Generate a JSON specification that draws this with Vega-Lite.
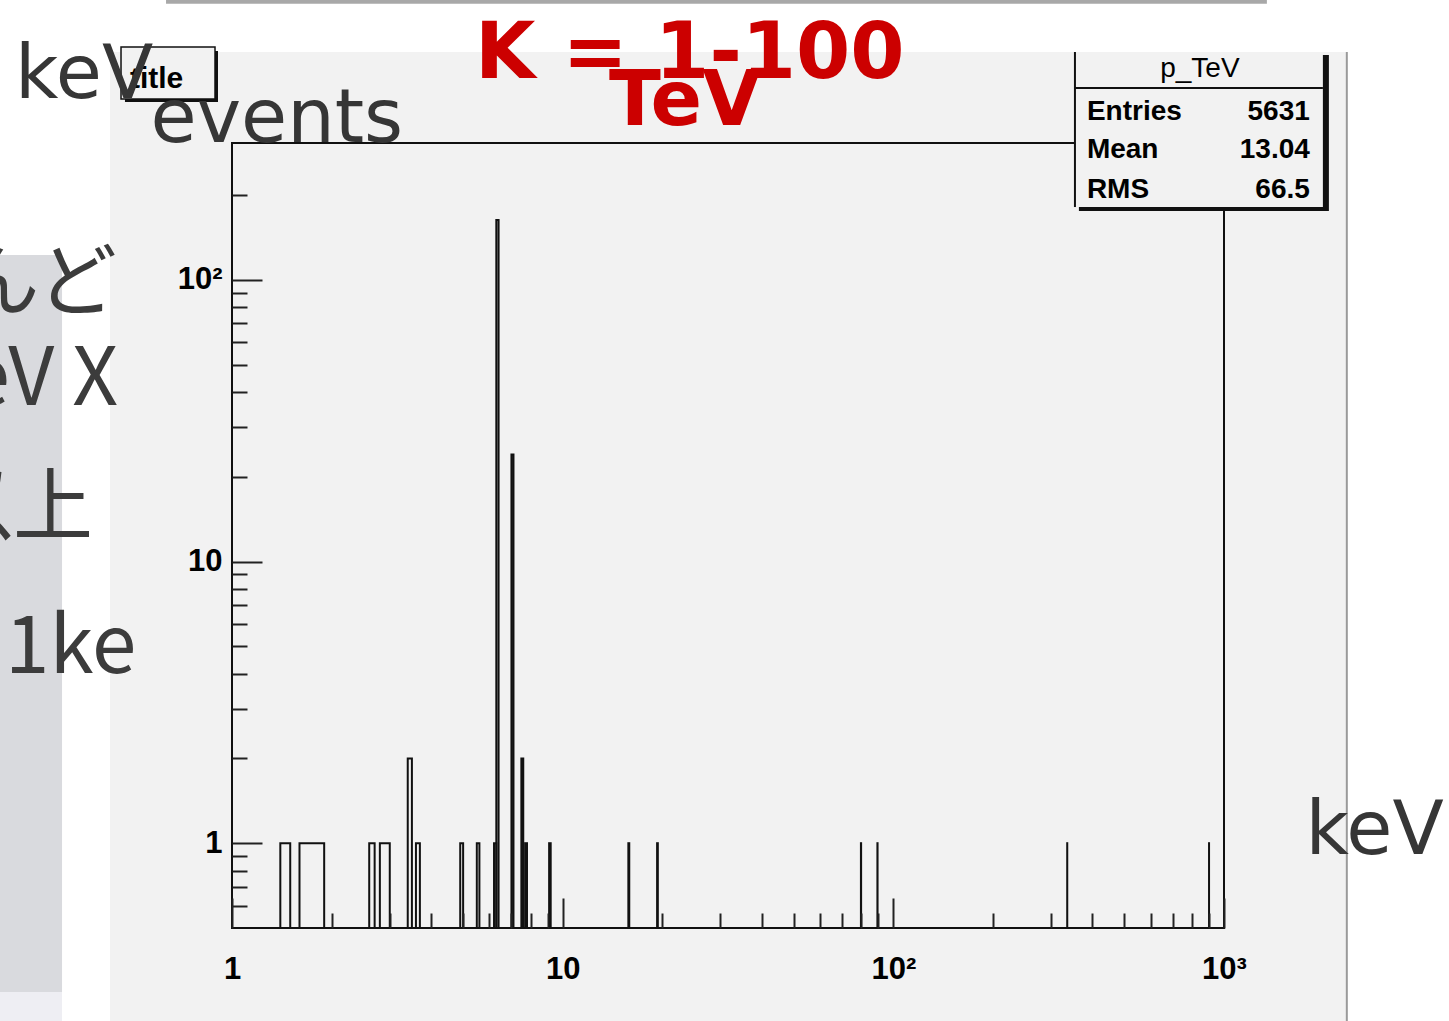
{
"$schema": "https://vega.github.io/schema/vega-lite/v6.json",
"width": 992, "height": 785,
"autosize": {"type": "none"},
"padding": {"left": 232, "top": 143, "right": 225, "bottom": 93},
"background": "#ffffff",
"config": {"view": {"stroke": null}, "axis": {"zindex": 1}},
"data": {"values": [
 {"lo": 1.4, "hi": 1.5, "count": 1},
 {"lo": 1.6, "hi": 1.9, "count": 1},
 {"lo": 2.6, "hi": 2.7, "count": 1},
 {"lo": 2.8, "hi": 3.0, "count": 1},
 {"lo": 3.4, "hi": 3.5, "count": 2},
 {"lo": 3.6, "hi": 3.7, "count": 1},
 {"lo": 4.9, "hi": 5.0, "count": 1},
 {"lo": 5.5, "hi": 5.6, "count": 1},
 {"lo": 6.2, "hi": 6.3, "count": 1},
 {"lo": 6.3, "hi": 6.4, "count": 163},
 {"lo": 7.0, "hi": 7.1, "count": 24},
 {"lo": 7.5, "hi": 7.6, "count": 2},
 {"lo": 7.7, "hi": 7.8, "count": 1},
 {"lo": 9.1, "hi": 9.2, "count": 1},
 {"lo": 15.8, "hi": 15.9, "count": 1},
 {"lo": 19.3, "hi": 19.4, "count": 1},
 {"lo": 79.8, "hi": 79.9, "count": 1},
 {"lo": 89.5, "hi": 89.6, "count": 1},
 {"lo": 335.6, "hi": 335.7, "count": 1},
 {"lo": 901.0, "hi": 901.1, "count": 1}
]},
"resolve": {"axis": {"x": "independent", "y": "independent"}},
"layer": [
 {"data": {"values": [{}]}, "mark": {"type": "rect", "fill": "#f2f2f2"},
  "encoding": {"x": {"datum": 0.4277, "type": "quantitative", "scale": {"type": "log", "domain": [1, 1000], "nice": false}, "axis": null}, "x2": {"datum": 2352},
   "y": {"datum": 643.7, "type": "quantitative", "scale": {"type": "log", "domain": [0.5, 306], "nice": false}, "axis": null}, "y2": {"datum": 0.1}}},
 {"data": {"values": [{}]}, "mark": {"type": "rule", "stroke": "#9a9a9a", "strokeWidth": 2},
  "encoding": {"x": {"datum": 2352, "type": "quantitative", "scale": {"type": "log", "domain": [1, 1000], "nice": false}, "axis": null},
   "y": {"datum": 643.7, "type": "quantitative", "scale": {"type": "log", "domain": [0.5, 306], "nice": false}, "axis": null}, "y2": {"datum": 0.1}}},
 {"data": {"values": [{}]}, "mark": {"type": "rect", "fill": "#d9dade"},
  "encoding": {"x": {"datum": 0.1, "type": "quantitative", "scale": {"type": "log", "domain": [1, 1000], "nice": false}, "axis": null}, "x2": {"datum": 0.3062},
   "y": {"datum": 122.4, "type": "quantitative", "scale": {"type": "log", "domain": [0.5, 306], "nice": false}, "axis": null}, "y2": {"datum": 0.2963}}},
 {"data": {"values": [{}]}, "mark": {"type": "rect", "fill": "#eeeef3"},
  "encoding": {"x": {"datum": 0.1, "type": "quantitative", "scale": {"type": "log", "domain": [1, 1000], "nice": false}, "axis": null}, "x2": {"datum": 0.3062},
   "y": {"datum": 0.2963, "type": "quantitative", "scale": {"type": "log", "domain": [0.5, 306], "nice": false}, "axis": null}, "y2": {"datum": 0.1}}},
 {"data": {"values": [{}]}, "mark": {"type": "rect", "fill": "#a8a8a8"},
  "encoding": {"x": {"datum": 0.6317, "type": "quantitative", "scale": {"type": "log", "domain": [1, 1000], "nice": false}, "axis": null}, "x2": {"datum": 1348},
   "y": {"datum": 984.5, "type": "quantitative", "scale": {"type": "log", "domain": [0.5, 306], "nice": false}, "axis": null}, "y2": {"datum": 955.3}}},
 {"mark": {"type": "rect", "fillOpacity": 0, "stroke": "#111111", "strokeWidth": 2},
  "encoding": {"x": {"field": "lo", "type": "quantitative", "scale": {"type": "log", "domain": [1, 1000], "nice": false}, "axis": null}, "x2": {"field": "hi"},
   "y": {"field": "count", "type": "quantitative", "scale": {"type": "log", "domain": [0.5, 306], "nice": false}, "axis": null}, "y2": {"datum": 0.5}}},
 {"data": {"values": [{}]}, "mark": {"type": "rect", "fillOpacity": 0, "stroke": "#111111", "strokeWidth": 2},
  "encoding": {"x": {"datum": 1, "type": "quantitative", "scale": {"type": "log", "domain": [1, 1000], "nice": false}, "axis": null}, "x2": {"datum": 1000},
   "y": {"datum": 0.5, "type": "quantitative", "scale": {"type": "log", "domain": [0.5, 306], "nice": false}, "axis": null}, "y2": {"datum": 306}}},
 {"mark": {"type": "point", "opacity": 0},
  "encoding": {"x": {"field": "lo", "type": "quantitative", "scale": {"type": "log", "domain": [1, 1000], "nice": false},
     "axis": {"orient": "bottom", "zindex": 1, "values": [1, 10, 100, 1000], "labels": false, "domain": false, "grid": false, "ticks": true, "tickSize": -30, "tickWidth": 2, "tickColor": "#222222", "title": null}},
   "y": {"field": "count", "type": "quantitative", "scale": {"type": "log", "domain": [0.5, 306], "nice": false},
     "axis": {"orient": "left", "zindex": 1, "values": [1, 10, 100], "labels": false, "domain": false, "grid": false, "ticks": true, "tickSize": -30, "tickWidth": 2, "tickColor": "#222222", "title": null}}}},
 {"mark": {"type": "point", "opacity": 0},
  "encoding": {"x": {"field": "lo", "type": "quantitative", "scale": {"type": "log", "domain": [1, 1000], "nice": false},
     "axis": {"orient": "bottom", "zindex": 1, "values": [2, 3, 4, 5, 6, 7, 8, 9, 20, 30, 40, 50, 60, 70, 80, 90, 200, 300, 400, 500, 600, 700, 800, 900], "labels": false, "domain": false, "grid": false, "ticks": true, "tickSize": -15, "tickWidth": 2, "tickColor": "#222222", "title": null}},
   "y": {"field": "count", "type": "quantitative", "scale": {"type": "log", "domain": [0.5, 306], "nice": false},
     "axis": {"orient": "left", "zindex": 1, "values": [0.6, 0.7, 0.8, 0.9, 2, 3, 4, 5, 6, 7, 8, 9, 20, 30, 40, 50, 60, 70, 80, 90, 200], "labels": false, "domain": false, "grid": false, "ticks": true, "tickSize": -15, "tickWidth": 2, "tickColor": "#222222", "title": null}}}},
 {"mark": {"type": "point", "opacity": 0},
  "encoding": {"x": {"field": "lo", "type": "quantitative", "scale": {"type": "log", "domain": [1, 1000], "nice": false},
     "axis": {"orient": "bottom", "zindex": 1, "values": [1, 10, 100, 1000], "ticks": false, "domain": false, "grid": false, "labelPadding": 26, "labelFlush": false, "labelOverlap": false,
       "labelFont": "Liberation Sans", "labelFontSize": 31, "labelFontWeight": "bold", "labelColor": "#000000",
       "labelExpr": "datum.value == 1 ? '1' : datum.value == 10 ? '10' : datum.value == 100 ? '10²' : '10³'",
       "title": "keV", "titleAngle": 0, "titleAlign": "left", "titleBaseline": "alphabetic", "titleX": 1073, "titleY": -75,
       "titleFont": "DejaVu Sans", "titleFontSize": 75, "titleFontWeight": "normal", "titleColor": "#363636"}},
   "y": {"field": "count", "type": "quantitative", "scale": {"type": "log", "domain": [0.5, 306], "nice": false},
     "axis": {"orient": "left", "zindex": 1, "values": [1, 10, 100], "ticks": false, "domain": false, "grid": false, "labelPadding": 10, "labelOverlap": false, "labelFlush": false,
       "labelFont": "Liberation Sans", "labelFontSize": 31, "labelFontWeight": "bold", "labelColor": "#000000",
       "labelExpr": "datum.value == 1 ? '1' : datum.value == 10 ? '10' : '10²'",
       "title": "events", "titleAngle": 0, "titleAlign": "left", "titleBaseline": "alphabetic", "titleX": -82, "titleY": -2,
       "titleFont": "DejaVu Sans", "titleFontSize": 75, "titleFontWeight": "normal", "titleColor": "#363636"}}}},
 {"data": {"values": [{}]}, "mark": {"type": "rect", "fill": "#111111"},
  "encoding": {"x": {"datum": 0.4746, "type": "quantitative", "scale": {"type": "log", "domain": [1, 1000], "nice": false}, "axis": null}, "x2": {"datum": 0.9071},
   "y": {"datum": 649.0, "type": "quantitative", "scale": {"type": "log", "domain": [0.5, 306], "nice": false}, "axis": null}, "y2": {"datum": 427.8}}},
 {"data": {"values": [{}]}, "mark": {"type": "rect", "fill": "#f2f2f2", "stroke": "#111111", "strokeWidth": 1.5},
  "encoding": {"x": {"datum": 0.4617, "type": "quantitative", "scale": {"type": "log", "domain": [1, 1000], "nice": false}, "axis": null}, "x2": {"datum": 0.8884},
   "y": {"datum": 670.7, "type": "quantitative", "scale": {"type": "log", "domain": [0.5, 306], "nice": false}, "axis": null}, "y2": {"datum": 438.4}}},
 {"data": {"values": [{}]}, "mark": {"type": "text", "text": "title", "font": "Liberation Sans", "fontSize": 30, "fontWeight": "bold", "color": "#000000", "align": "left", "baseline": "alphabetic"},
  "encoding": {"x": {"datum": 0.4913, "type": "quantitative", "scale": {"type": "log", "domain": [1, 1000], "nice": false}, "axis": null},
   "y": {"datum": 479.6, "type": "quantitative", "scale": {"type": "log", "domain": [0.5, 306], "nice": false}, "axis": null}}},
 {"data": {"values": [{}]}, "mark": {"type": "rect", "fill": "#111111"},
  "encoding": {"x": {"datum": 364.1, "type": "quantitative", "scale": {"type": "log", "domain": [1, 1000], "nice": false}, "axis": null}, "x2": {"datum": 2076},
   "y": {"datum": 628.1, "type": "quantitative", "scale": {"type": "log", "domain": [0.5, 306], "nice": false}, "axis": null}, "y2": {"datum": 175.5}}},
 {"data": {"values": [{}]}, "mark": {"type": "rect", "fill": "#f2f2f2"},
  "encoding": {"x": {"datum": 354.2, "type": "quantitative", "scale": {"type": "log", "domain": [1, 1000], "nice": false}, "axis": null}, "x2": {"datum": 1991},
   "y": {"datum": 643.7, "type": "quantitative", "scale": {"type": "log", "domain": [0.5, 306], "nice": false}, "axis": null}, "y2": {"datum": 181.3}}},
 {"data": {"values": [{}]}, "mark": {"type": "rule", "stroke": "#111111", "strokeWidth": 2},
  "encoding": {"x": {"datum": 354.2, "type": "quantitative", "scale": {"type": "log", "domain": [1, 1000], "nice": false}, "axis": null},
   "y": {"datum": 643.7, "type": "quantitative", "scale": {"type": "log", "domain": [0.5, 306], "nice": false}, "axis": null}, "y2": {"datum": 181.3}}},
 {"data": {"values": [{}]}, "mark": {"type": "rule", "stroke": "#111111", "strokeWidth": 2},
  "encoding": {"x": {"datum": 354.2, "type": "quantitative", "scale": {"type": "log", "domain": [1, 1000], "nice": false}, "axis": null}, "x2": {"datum": 1991},
   "y": {"datum": 479.6, "type": "quantitative", "scale": {"type": "log", "domain": [0.5, 306], "nice": false}, "axis": null}}},
 {"data": {"values": [{}]}, "mark": {"type": "text", "text": "p_TeV", "font": "Liberation Sans", "fontSize": 28, "color": "#000000", "align": "center", "baseline": "alphabetic"},
  "encoding": {"x": {"datum": 845.6, "type": "quantitative", "scale": {"type": "log", "domain": [1, 1000], "nice": false}, "axis": null},
   "y": {"datum": 524.7, "type": "quantitative", "scale": {"type": "log", "domain": [0.5, 306], "nice": false}, "axis": null}}},
 {"data": {"values": [{}]}, "mark": {"type": "text", "text": "Entries", "font": "Liberation Sans", "fontSize": 28, "fontWeight": "bold", "color": "#000000", "align": "left", "baseline": "alphabetic"},
  "encoding": {"x": {"datum": 384.9, "type": "quantitative", "scale": {"type": "log", "domain": [1, 1000], "nice": false}, "axis": null},
   "y": {"datum": 369.2, "type": "quantitative", "scale": {"type": "log", "domain": [0.5, 306], "nice": false}, "axis": null}}},
 {"data": {"values": [{}]}, "mark": {"type": "text", "text": "Mean", "font": "Liberation Sans", "fontSize": 28, "fontWeight": "bold", "color": "#000000", "align": "left", "baseline": "alphabetic"},
  "encoding": {"x": {"datum": 384.9, "type": "quantitative", "scale": {"type": "log", "domain": [1, 1000], "nice": false}, "axis": null},
   "y": {"datum": 270.6, "type": "quantitative", "scale": {"type": "log", "domain": [0.5, 306], "nice": false}, "axis": null}}},
 {"data": {"values": [{}]}, "mark": {"type": "text", "text": "RMS", "font": "Liberation Sans", "fontSize": 28, "fontWeight": "bold", "color": "#000000", "align": "left", "baseline": "alphabetic"},
  "encoding": {"x": {"datum": 384.9, "type": "quantitative", "scale": {"type": "log", "domain": [1, 1000], "nice": false}, "axis": null},
   "y": {"datum": 195.2, "type": "quantitative", "scale": {"type": "log", "domain": [0.5, 306], "nice": false}, "axis": null}}},
 {"data": {"values": [{}]}, "mark": {"type": "text", "text": "5631", "font": "Liberation Sans", "fontSize": 28, "fontWeight": "bold", "color": "#000000", "align": "right", "baseline": "alphabetic"},
  "encoding": {"x": {"datum": 1818, "type": "quantitative", "scale": {"type": "log", "domain": [1, 1000], "nice": false}, "axis": null},
   "y": {"datum": 369.2, "type": "quantitative", "scale": {"type": "log", "domain": [0.5, 306], "nice": false}, "axis": null}}},
 {"data": {"values": [{}]}, "mark": {"type": "text", "text": "13.04", "font": "Liberation Sans", "fontSize": 28, "fontWeight": "bold", "color": "#000000", "align": "right", "baseline": "alphabetic"},
  "encoding": {"x": {"datum": 1818, "type": "quantitative", "scale": {"type": "log", "domain": [1, 1000], "nice": false}, "axis": null},
   "y": {"datum": 270.6, "type": "quantitative", "scale": {"type": "log", "domain": [0.5, 306], "nice": false}, "axis": null}}},
 {"data": {"values": [{}]}, "mark": {"type": "text", "text": "66.5", "font": "Liberation Sans", "fontSize": 28, "fontWeight": "bold", "color": "#000000", "align": "right", "baseline": "alphabetic"},
  "encoding": {"x": {"datum": 1818, "type": "quantitative", "scale": {"type": "log", "domain": [1, 1000], "nice": false}, "axis": null},
   "y": {"datum": 195.2, "type": "quantitative", "scale": {"type": "log", "domain": [0.5, 306], "nice": false}, "axis": null}}},
 {"data": {"values": [{}]}, "mark": {"type": "text", "text": "keV", "font": "DejaVu Sans", "fontSize": 75, "color": "#363636", "align": "left", "baseline": "alphabetic"},
  "encoding": {"x": {"datum": 0.2207, "type": "quantitative", "scale": {"type": "log", "domain": [1, 1000], "nice": false}, "axis": null},
   "y": {"datum": 442.0, "type": "quantitative", "scale": {"type": "log", "domain": [0.5, 306], "nice": false}, "axis": null}}},
 {"data": {"values": [{}]}, "mark": {"type": "text", "text": "K = 1-100", "font": "DejaVu Sans", "fontSize": 78, "fontWeight": "bold", "color": "#cc0000", "align": "left", "baseline": "alphabetic"},
  "encoding": {"x": {"datum": 5.431, "type": "quantitative", "scale": {"type": "log", "domain": [1, 1000], "nice": false}, "axis": null},
   "y": {"datum": 520.4, "type": "quantitative", "scale": {"type": "log", "domain": [0.5, 306], "nice": false}, "axis": null}}},
 {"data": {"values": [{}]}, "mark": {"type": "text", "text": "TeV", "font": "DejaVu Sans", "fontSize": 76, "fontWeight": "bold", "color": "#cc0000", "align": "center", "baseline": "alphabetic"},
  "encoding": {"x": {"datum": 23.43, "type": "quantitative", "scale": {"type": "log", "domain": [1, 1000], "nice": false}, "axis": null},
   "y": {"datum": 354.3, "type": "quantitative", "scale": {"type": "log", "domain": [0.5, 306], "nice": false}, "axis": null}}},
 {"data": {"values": [{}]}, "mark": {"type": "text", "text": "ほとんど", "font": "Noto Sans CJK JP", "fontSize": 80, "color": "#3c3c3c", "align": "right", "baseline": "alphabetic"},
  "encoding": {"x": {"datum": 0.4491, "type": "quantitative", "scale": {"type": "log", "domain": [1, 1000], "nice": false}, "axis": null},
   "y": {"datum": 78.78, "type": "quantitative", "scale": {"type": "log", "domain": [0.5, 306], "nice": false}, "axis": null}}},
 {"data": {"values": [{}]}, "mark": {"type": "text", "text": "keV X", "font": "Noto Sans CJK JP", "fontSize": 80, "color": "#3c3c3c", "align": "right", "baseline": "alphabetic"},
  "encoding": {"x": {"datum": 0.4522, "type": "quantitative", "scale": {"type": "log", "domain": [1, 1000], "nice": false}, "axis": null},
   "y": {"datum": 35.94, "type": "quantitative", "scale": {"type": "log", "domain": [0.5, 306], "nice": false}, "axis": null}}},
 {"data": {"values": [{}]}, "mark": {"type": "text", "text": "以上", "font": "Noto Sans CJK JP", "fontSize": 80, "color": "#3c3c3c", "align": "right", "baseline": "alphabetic"},
  "encoding": {"x": {"datum": 0.3799, "type": "quantitative", "scale": {"type": "log", "domain": [1, 1000], "nice": false}, "axis": null},
   "y": {"datum": 12.52, "type": "quantitative", "scale": {"type": "log", "domain": [0.5, 306], "nice": false}, "axis": null}}},
 {"data": {"values": [{}]}, "mark": {"type": "text", "text": "1ke", "font": "Noto Sans CJK JP", "fontSize": 80, "color": "#3c3c3c", "align": "left", "baseline": "alphabetic"},
  "encoding": {"x": {"datum": 0.2059, "type": "quantitative", "scale": {"type": "log", "domain": [1, 1000], "nice": false}, "axis": null},
   "y": {"datum": 4.02, "type": "quantitative", "scale": {"type": "log", "domain": [0.5, 306], "nice": false}, "axis": null}}}
]
}
